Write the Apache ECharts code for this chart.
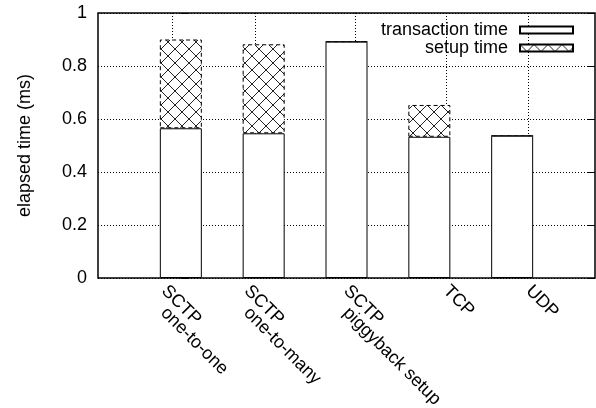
<!DOCTYPE html>
<html>
<head>
<meta charset="utf-8">
<script src="https://cdn.jsdelivr.net/npm/echarts@6/dist/echarts.min.js"></script>
<style>
    html, body { margin: 0; padding: 0; background: #fff; }
    #chart { width: 596px; height: 408px; }
</style>
</head>
<body>
<div id="chart"></div>
<script>
// bars, left to right
const categories = ['SCTP\none-to-one', 'SCTP\none-to-many', 'SCTP\npiggyback setup', 'TCP', 'UDP'];
// elapsed time (ms)
const transactionTime = [0.565, 0.546, 0.892, 0.533, 0.537];
const setupTime = [0.335, 0.336, 0, 0.12, 0];
// x tics (grid lines) and where their labels start, in bar index units
const xTicks = [-0.1, 0.9, 2.1, 3.2, 4.2];
const xLabelPos = [-0.2, 0.8, 2.0, 3.2, 4.2];

const FONT = '"Liberation Sans", Arial, Helvetica, sans-serif';

// cross hatch used for the setup time boxes
function makeHatch() {
    const s = 14;
    const c = document.createElement('canvas');
    c.width = s;
    c.height = s;
    const ctx = c.getContext('2d');
    ctx.fillStyle = '#fff';
    ctx.fillRect(0, 0, s, s);
    ctx.strokeStyle = '#222';
    ctx.lineWidth = 1;
    ctx.beginPath();
    ctx.moveTo(0, 0);
    ctx.lineTo(s, s);
    ctx.moveTo(s, 0);
    ctx.lineTo(0, s);
    ctx.stroke();
    return c;
}

function labelFor(v) {
    // nearest label slot
    let best = 0;
    xLabelPos.forEach((p, i) => {
        if (Math.abs(p - v) < Math.abs(xLabelPos[best] - v)) best = i;
    });
    const lines = categories[best].split('\n');
    if (lines.length === 1) return '{a|' + lines[0] + '}';
    return '{a|' + lines[0] + '}\n{b|' + lines[1] + '}';
}

const dotted = {color: '#000', type: [1, 2], width: 1};
// value first so the stack runs along y
const pairs = vals => vals.map((v, i) => [v, i]);

const chart = echarts.init(document.getElementById('chart'));
chart.setOption({
    animation: false,
    textStyle: {fontFamily: FONT, color: '#000'},
    grid: {
        left: 98, right: 1, top: 13, bottom: 130,
        outerBoundsMode: 'none',
        containLabel: false,
        show: true, borderColor: '#000', borderWidth: 1.5
    },
    legend: {
        orient: 'vertical',
        right: 22,
        top: 21,
        padding: 0,
        itemGap: 0,
        align: 'right',
        itemWidth: 53,
        itemHeight: 7,
        icon: 'rect',
        textStyle: {fontSize: 18, color: '#000', lineHeight: 18, padding: [0, 7, 0, 0]},
        data: ['transaction time', 'setup time']
    },
    xAxis: {
        type: 'value',
        min: -1,
        max: 5,
        axisLine: {show: false},
        axisTick: {show: false},
        splitLine: {show: false},
        axisLabel: {
            customValues: xLabelPos,
            rotate: -45,
            align: 'left',
            verticalAlign: 'top',
            margin: -1,
            formatter: labelFor,
            rich: {
                a: {fontSize: 18, lineHeight: 16, color: '#000', padding: [0, 0, 0, 8]},
                b: {fontSize: 18, lineHeight: 16, color: '#000', padding: [0, 0, 0, 23]}
            }
        }
    },
    yAxis: [{
        type: 'value',
        min: 0,
        max: 1,
        interval: 0.2,
        name: 'elapsed time (ms)',
        nameLocation: 'middle',
        nameGap: 64,
        nameTextStyle: {fontSize: 18, color: '#000'},
        axisLine: {show: false},
        axisTick: {show: true, inside: true, length: 7, lineStyle: {color: '#000'}},
        splitLine: {show: true, lineStyle: dotted},
        axisLabel: {fontSize: 18, color: '#000', margin: 11}
    }, {
        type: 'value',
        position: 'right',
        min: 0,
        max: 1,
        interval: 0.2,
        axisLine: {show: false},
        axisTick: {show: true, inside: true, length: 7, lineStyle: {color: '#000'}},
        axisLabel: {show: false},
        splitLine: {show: false}
    }],
    series: [{
        name: 'transaction time',
        type: 'bar',
        stack: 'total',
        barWidth: 42,
        z: 3,
        encode: {x: 1, y: 0},
        data: pairs(transactionTime),
        itemStyle: {color: '#fff', borderColor: '#000', borderWidth: 1},
        // vertical grid lines at the x tics, kept under the bars
        markLine: {
            z: 1,
            silent: true,
            symbol: 'none',
            label: {show: false},
            lineStyle: dotted,
            data: xTicks.map(v => ({xAxis: v}))
        }
    }, {
        name: 'setup time',
        type: 'bar',
        stack: 'total',
        barWidth: 42,
        z: 3,
        encode: {x: 1, y: 0},
        data: pairs(setupTime),
        itemStyle: {
            color: {image: makeHatch(), repeat: 'repeat'},
            borderColor: '#000',
            borderWidth: 1,
            borderType: [4, 3]
        }
    }]
});
</script>
</body>
</html>
